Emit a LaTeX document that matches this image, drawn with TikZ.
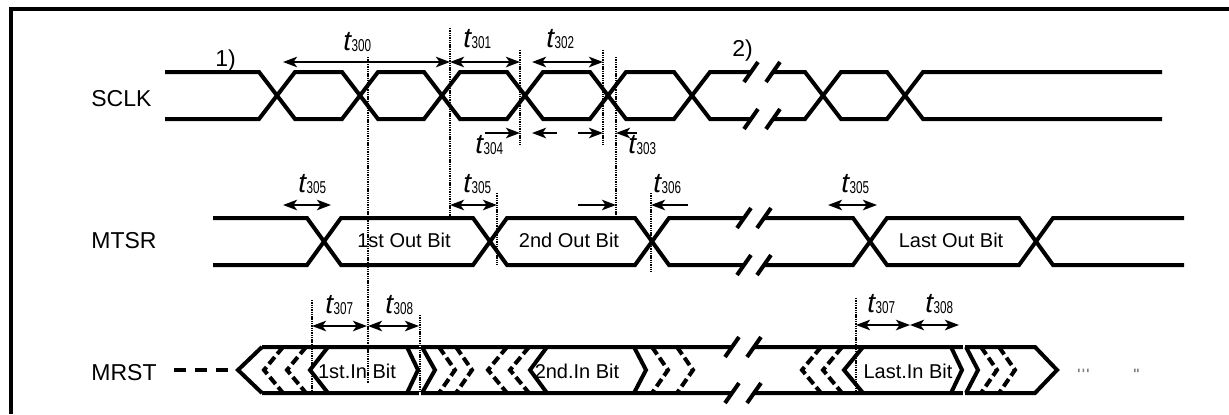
\documentclass[tikz,border=0pt]{standalone}
\usepackage{fontspec}
\setmainfont{Liberation Sans}
\usepackage{graphicx}
\usetikzlibrary{arrows.meta}
\newcommand\tlab[1]{{\fontsize{14}{14}\selectfont\itshape t}\kern0.2pt\raisebox{-0.8pt}{\scalebox{0.68}[1]{\fontsize{8.6}{8.6}\selectfont #1}}}
\begin{document}
\begin{tikzpicture}[x=0.5pt,y=-0.5pt,
  >={Stealth[length=7pt,width=5.2pt,inset=1.8pt]},
  sig/.style={line width=2pt},
  dotl/.style={line width=0.75pt,dash pattern=on 0.7pt off 0.45pt},
  dchev/.style={line width=2pt,dash pattern=on 4.5pt off 2pt},
  arw/.style={line width=1.2pt},
  lab/.style={font=\fontsize{11.5}{11.5}\selectfont,inner sep=0pt,anchor=base west},
  bit/.style={font=\fontsize{10}{10}\selectfont,inner sep=0pt,anchor=base},
  tl/.style={inner sep=0pt,anchor=base west}]
\useasboundingbox (0,0) rectangle (1229,414);
\fill[white] (0,0) rectangle (1229,414);
% frame
\draw[line width=1.75pt] (11,414) -- (11,9) -- (1229,9);
% labels
\node[lab] (sclk) at (91,106) {SCLK};
\node[lab] (mtsr) at (91,248) {MTSR};
\node[lab] (mrst) at (91,380) {MRST};
\node[lab] (n1) at (215,66) {1)};
\node[lab] (n2) at (732,56) {2)};
% SCLK
\draw[sig] (165,72) -- (259,72) -- (295,119) -- (342,119) -- (378,72) -- (424,72) -- (460,119) -- (507,119) -- (543,72) -- (590,72) -- (626,119) -- (674,119) -- (710,72) -- (751,72)
  (773,72) -- (805,72) -- (841,119) -- (887,119) -- (923,72) -- (1162,72);
\draw[sig] (165,119) -- (259,119) -- (295,72) -- (342,72) -- (378,119) -- (424,119) -- (460,72) -- (507,72) -- (543,119) -- (590,119) -- (626,72) -- (674,72) -- (710,119) -- (751,119)
  (773,119) -- (805,119) -- (841,72) -- (887,72) -- (923,119) -- (1162,119);
\draw[sig] (744,82) -- (758,62) (766,82) -- (780,62) (744,129) -- (758,109) (766,129) -- (780,109);
% MTSR
\draw[sig] (213,218) -- (307,218) -- (341,265) -- (473,265) -- (507,218) -- (635,218) -- (669,265) -- (744,265)
  (764,265) -- (853,265) -- (887,218) -- (1019,218) -- (1053,265) -- (1184,265);
\draw[sig] (213,265) -- (307,265) -- (341,218) -- (473,218) -- (507,265) -- (635,265) -- (669,218) -- (744,218)
  (764,218) -- (853,218) -- (887,265) -- (1019,265) -- (1053,218) -- (1184,218);
\draw[sig] (737,228) -- (751,208) (757,228) -- (771,208) (737,275) -- (751,255) (757,275) -- (771,255);
\node[bit] (b1o) at (404,247) {1st Out Bit};
\node[bit] (b2o) at (569,247) {2nd Out Bit};
\node[bit] (blo) at (951,247) {Last Out Bit};
% MRST
\draw[line width=2pt,dash pattern=on 6pt off 4.5pt] (174,370) -- (238,370);
\draw[sig] (262,347) -- (238,370) -- (262,393);
\draw[sig] (262,347) -- (732,347) (754,347) -- (1035,347) -- (1057,370) -- (1035,393) -- (754,393) (732,393) -- (262,393);
\draw[sig] (725,357) -- (739,337) (747,357) -- (761,337) (725,403) -- (739,383) (747,403) -- (761,383);
\draw[white,line width=1pt] (420,343) -- (420,351) (420,389) -- (420,397) (964,343) -- (964,351) (964,389) -- (964,397);
% bit 1
\draw[dchev] (283,347) -- (264,370) -- (283,393);
\draw[dchev] (306,347) -- (287,370) -- (306,393);
\draw[sig] (328,347) -- (310,370) -- (328,393);
\draw[sig] (407,347) -- (418,370) -- (407,393);
\draw[sig] (422,347) -- (435,370) -- (422,393);
\draw[dchev] (439,347) -- (455,370) -- (439,393);
\draw[dchev] (456,347) -- (472,370) -- (456,393);
% bit 2
\draw[dchev] (507,347) -- (488,370) -- (507,393);
\draw[dchev] (529,347) -- (510,370) -- (529,393);
\draw[sig] (547,347) -- (530,370) -- (547,393);
\draw[sig] (634,347) -- (646,370) -- (634,393);
\draw[dchev] (652,347) -- (668,370) -- (652,393);
\draw[dchev] (677,347) -- (693,370) -- (677,393);
% last bit
\draw[dchev] (821,347) -- (802,370) -- (821,393);
\draw[dchev] (842,347) -- (823,370) -- (842,393);
\draw[sig] (863,347) -- (844,370) -- (863,393);
\draw[sig] (951,347) -- (962,370) -- (951,393);
\draw[sig] (966,347) -- (978,370) -- (966,393);
\draw[dchev] (981,347) -- (997,370) -- (981,393);
\draw[dchev] (999,347) -- (1015,370) -- (999,393);
\node[bit] (b1i) at (357,378) {1st.In Bit};
\node[bit] (b2i) at (577,378) {2nd.In Bit};
\node[bit] (bli) at (908,378) {Last.In Bit};
% small marks
\fill[gray] (1078,368.5) rectangle (1079.5,372) (1082.5,368.5) rectangle (1084,372) (1087,368.5) rectangle (1088.5,372);
\fill[gray] (1134,368.5) rectangle (1135.5,372) (1137,368.5) rectangle (1138.5,372);
% dotted lines
\draw[dotl] (368,57) -- (368,383);
\draw[dotl] (450,28) -- (450,218);
\draw[dotl] (520,50) -- (520,145);
\draw[dotl] (603,50) -- (603,145);
\draw[dotl] (616,57) -- (616,218);
\draw[dotl] (651,193) -- (651,272);
\draw[dotl] (497,193) -- (497,265);
\draw[dotl] (312,300) -- (312,393);
\draw[dotl] (420,315) -- (420,393);
\draw[dotl] (856,298) -- (856,393);
% arrows
\draw[arw,<->] (283,62) -- (450,62);
\draw[arw,<->] (450,62) -- (520,62);
\draw[arw,<->] (532,62) -- (603,62);
\draw[arw,->] (485,133) -- (520,133);
\draw[arw,<-] (532,133) -- (557,133);
\draw[arw,->] (578,133) -- (603,133);
\draw[arw,<-] (616,133) -- (637,133);
\draw[arw,<->] (283,205) -- (331,205);
\draw[arw,<->] (450,205) -- (497,205);
\draw[arw,->] (578,205) -- (616,205);
\draw[arw,<-] (651,205) -- (688,205);
\draw[arw,<->] (828,205) -- (877,205);
\draw[arw,<->] (312,326) -- (367,326);
\draw[arw,<->] (368,326) -- (419,326);
\draw[arw,<->] (856,325) -- (910,325);
\draw[arw,<->] (910,325) -- (959,325);
% t labels
\node[tl] (t300) at (343,50) {\tlab{300}};
\node[tl] (t301) at (463,47) {\tlab{301}};
\node[tl] (t302) at (546,47) {\tlab{302}};
\node[tl] (t304) at (475,153) {\tlab{304}};
\node[tl] (t303) at (628,153) {\tlab{303}};
\node[tl] (t305a) at (298,192) {\tlab{305}};
\node[tl] (t305b) at (463,192) {\tlab{305}};
\node[tl] (t306) at (653,192) {\tlab{306}};
\node[tl] (t305c) at (841,192) {\tlab{305}};
\node[tl] (t307a) at (325,313) {\tlab{307}};
\node[tl] (t308a) at (385,313) {\tlab{308}};
\node[tl] (t307b) at (867,312) {\tlab{307}};
\node[tl] (t308b) at (925,312) {\tlab{308}};
\end{tikzpicture}
\end{document}
